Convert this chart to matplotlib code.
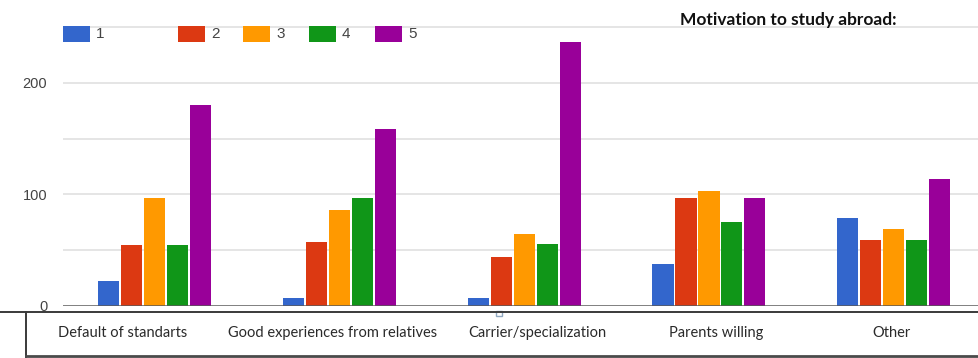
import matplotlib
matplotlib.use("Agg")
import matplotlib.pyplot as plt
from matplotlib.lines import Line2D
from matplotlib.patches import Rectangle
import numpy as np

# Survey answers: how many respondents picked each rating (1-5) per motivation
categories = ["Default of standarts", "Good experiences from relatives",
              "Carrier/specialization", "Parents willing", "Other"]
series_names = ["1", "2", "3", "4", "5"]
rating_1 = [22, 7, 7, 37, 79]
rating_2 = [54, 57, 44, 97, 59]
rating_3 = [97, 86, 64, 103, 69]
rating_4 = [54, 97, 55, 75, 59]
rating_5 = [180, 159, 237, 97, 114]
title = "Motivation to study abroad:"

series = [rating_1, rating_2, rating_3, rating_4, rating_5]
colors = ["#3366cc", "#dc3912", "#ff9900", "#109618", "#990099"]

W, H = 979, 358
fig = plt.figure(figsize=(W / 100, H / 100), dpi=100)
fig.patch.set_facecolor("white")


def fx(px):
    return px / W


def fy(py):
    return (H - py) / H


# plot area (pixel geometry of the chart panel)
ax_left, ax_right = 62.6, 986.0
ax_bottom, ax_top = 305.5, 0.0
px_per_unit = 1.113
ax = fig.add_axes([fx(ax_left), fy(ax_bottom), fx(ax_right - ax_left),
                   (ax_bottom - ax_top) / H])
ax.set_xlim(-0.5, len(categories) - 0.5)
ax.set_ylim(0, (ax_bottom - ax_top) / px_per_unit)
for s in ax.spines.values():
    s.set_visible(False)

# gridlines every 50, labels every 100
for g in [50, 100, 150, 200, 250]:
    ax.axhline(g, color="#e3e3e3", lw=1.3, zorder=0)
ax.set_yticks([0, 100, 200])
ax.set_yticklabels(["0", "100", "200"], family="Liberation Sans",
                   fontsize=10.5, color="#444444")
ax.tick_params(axis="y", length=0, pad=11)
ax.set_xticks([])

x = np.arange(len(categories))
step, width = 0.1245, 0.114
for i, (vals, c) in enumerate(zip(series, colors)):
    ax.bar(x + (i - 2) * step, vals, width=width, color=c, zorder=2,
           linewidth=0)

ax.axhline(0, color="#5a5a5a", lw=1.8, zorder=3)

# table frame under the chart
fig.add_artist(Line2D([0, 1], [fy(311.5), fy(311.5)], color="#3a3a3a", lw=1.4))
fig.add_artist(Line2D([fx(26.5), fx(26.5)], [fy(311.5), fy(358)],
                      color="#3a3a3a", lw=1.4))
fig.add_artist(Line2D([fx(26.5), 1], [fy(355.5), fy(355.5)],
                      color="#4a4a4a", lw=2))
fig.add_artist(Rectangle((fx(496), fy(316)), fx(6), 5 / H, facecolor="white",
                         edgecolor="#8fa8c0", lw=1))

# category labels inside the frame
label_px = [123, 333, 537, 716, 892]
for lab, px in zip(categories, label_px):
    fig.text(fx(px), fy(333), lab, ha="center", va="center", family="Lato",
             fontsize=10.5, color="#2a2a2a")

# legend
swatch_px = [63, 178, 243, 309, 375]
for name, c, px in zip(series_names, colors, swatch_px):
    fig.add_artist(Rectangle((fx(px), fy(41.5)), fx(27), 15 / H,
                             facecolor=c, edgecolor="none"))
    fig.text(fx(px + 33), fy(34), name, ha="left", va="center",
             family="Liberation Sans", fontsize=11, color="#444444")

fig.text(fx(788), fy(20), title, ha="center", va="center", family="Lato",
         fontweight="bold", fontsize=12.5, color="#111111")

fig.savefig("out.png", dpi=100, facecolor="white")
